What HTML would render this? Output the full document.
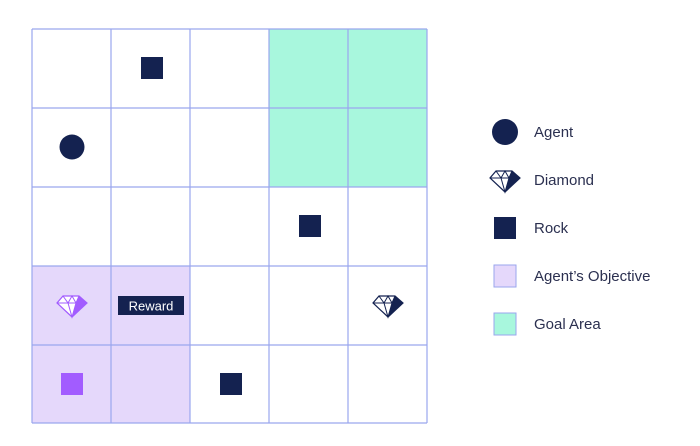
<!DOCTYPE html>
<html><head><style>body{margin:0;background:#fff}svg{display:block}</style></head><body>
<svg width="700" height="446" viewBox="0 0 700 446" xmlns="http://www.w3.org/2000/svg" font-family="Liberation Sans, sans-serif">
<defs>
<g id="dia">
<path d="M-9,-7 L7,-7 L15,0 L0,14 L-15,0 Z" fill="#fff" stroke-width="1.2"/>
<path d="M7,-7 L15,0 L0,14 L4,0 Z" stroke="none"/>
<path d="M-15,0 L15,0 M-9,-7 L-4,0 L0,14 L4,0 L0,-7 L-4,0 M4,0 L7,-7" fill="none" stroke-width="1"/>
</g>
</defs>
<rect x="32" y="266" width="158" height="157" fill="#e5d8fb"/>
<rect x="269" y="29" width="158" height="158" fill="#a8f7dd"/>
<g stroke="#9aa6ee" stroke-width="1.2">
<line x1="32" y1="29" x2="32" y2="423"/><line x1="111" y1="29" x2="111" y2="423"/><line x1="190" y1="29" x2="190" y2="423"/><line x1="269" y1="29" x2="269" y2="423"/><line x1="348" y1="29" x2="348" y2="423"/><line x1="427" y1="29" x2="427" y2="423"/>
<line x1="32" y1="29" x2="427" y2="29"/><line x1="32" y1="108" x2="427" y2="108"/><line x1="32" y1="187" x2="427" y2="187"/><line x1="32" y1="266" x2="427" y2="266"/><line x1="32" y1="345" x2="427" y2="345"/><line x1="32" y1="423" x2="427" y2="423"/>
</g>
<g fill="#142250">
<rect x="141" y="57" width="22" height="22"/>
<rect x="299" y="215" width="22" height="22"/>
<rect x="220" y="373" width="22" height="22"/>
<circle cx="72" cy="147" r="12.5"/>
</g>
<rect x="61" y="373" width="22" height="22" fill="#a25cff"/>
<g transform="translate(72,303)" stroke="#a25cff" fill="#a25cff"><use href="#dia"/></g>
<g transform="translate(388,303)" stroke="#142250" fill="#142250"><use href="#dia"/></g>
<rect x="118" y="296" width="66" height="19" fill="#142250"/>
<text x="151" y="310.5" fill="#fff" font-size="13" text-anchor="middle">Reward</text>
<circle cx="505" cy="132" r="13" fill="#142250"/>
<g transform="translate(505,178)" stroke="#142250" fill="#142250"><use href="#dia"/></g>
<rect x="494" y="217" width="22" height="22" fill="#142250"/>
<rect x="494" y="265" width="22" height="22" fill="#e5d8fb" stroke="#9aa6ee"/>
<rect x="494" y="313" width="22" height="22" fill="#a8f7dd" stroke="#9aa6ee"/>
<g fill="#2b3050" font-size="15">
<text x="534" y="137">Agent</text>
<text x="534" y="185">Diamond</text>
<text x="534" y="233">Rock</text>
<text x="534" y="281">Agent’s Objective</text>
<text x="534" y="329">Goal Area</text>
</g>
</svg>
</body></html>
